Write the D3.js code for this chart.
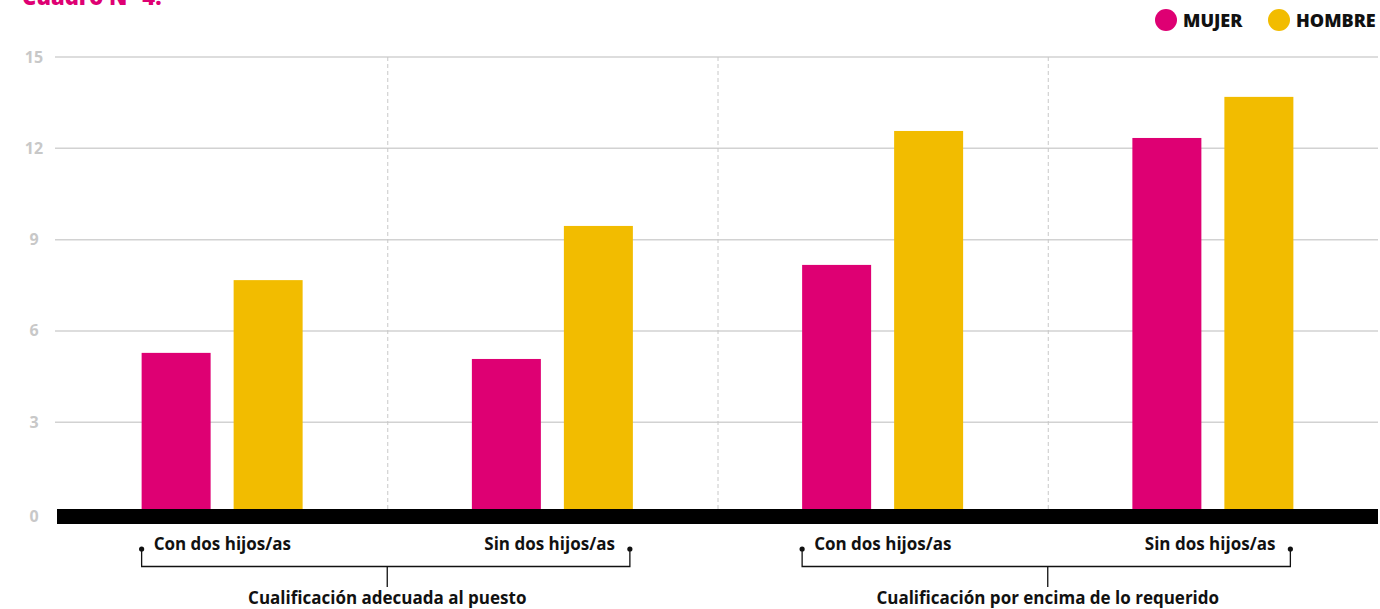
<!DOCTYPE html>
<html><head><meta charset="utf-8">
<script src="https://cdn.jsdelivr.net/npm/d3@7"></script>
<style>body{margin:0;background:#fff;}svg{display:block;font-family:"Open Sans",Lato,sans-serif;}</style>
</head><body>
<svg id="c" width="1380" height="609"></svg>
<script>
const categories = ["Con dos hijos/as","Sin dos hijos/as","Con dos hijos/as","Sin dos hijos/as"];
const groups = ["Cualificación adecuada al puesto","Cualificación por encima de lo requerido"];
const series = ["MUJER","HOMBRE"];
const mujer = [5.28, 5.08, 8.17, 12.34];
const hombre = [7.67, 9.45, 12.57, 13.69];
const yTicks = [0,3,6,9,12,15];
const colors = ["#de0073","#f2bc00"];
const title = "Cuadro N° 4.";

const svg = d3.select("#c");
const L = 57, R = 1378, T = 57;
const y = d3.scaleLinear().domain([0,15]).range([513.6, T]);
const x = d3.scaleBand().domain(d3.range(categories.length)).range([L, R]);
const bw = x.bandwidth();
const xi = d3.scaleBand().domain(series).range([bw/2-80.5, bw/2+80.5]).paddingInner(0.25);

// title (partly above the top edge, as in the reference)
svg.append("text").attr("x",22).attr("y",5).attr("fill","#de0073")
  .attr("font-size",22).attr("font-weight",800).text(title);

// gridlines
svg.append("g").selectAll("line").data(yTicks.filter(d=>d>0)).join("line")
  .attr("x1",55).attr("x2",R).attr("y1",d=>y(d)).attr("y2",d=>y(d))
  .attr("stroke","#d2d2d2").attr("stroke-width",1.5);
// y tick labels
svg.append("g").selectAll("text").data(yTicks).join("text")
  .attr("x",34).attr("y",d=>(d===0? y(d)+3 : y(d))+5.5).attr("text-anchor","middle")
  .attr("fill","#c8c8c8").attr("font-size",16).attr("font-weight",700).text(d=>d);

// dashed separators
svg.append("g").selectAll("line").data(d3.range(1,categories.length)).join("line")
  .attr("x1",d=>x(d)+0.5).attr("x2",d=>x(d)+0.5).attr("y1",T).attr("y2",y(0)-4)
  .attr("stroke","#c8c8c8").attr("stroke-width",1).attr("stroke-dasharray","4,3");

// bars
const data = categories.map((c,i)=>({i, vals:[mujer[i],hombre[i]]}));
const gb = svg.append("g").selectAll("g").data(data).join("g").attr("transform",d=>`translate(${x(d.i)},0)`);
gb.selectAll("rect").data(d=>d.vals.map((v,k)=>({v,k}))).join("rect")
  .attr("x",d=>xi(series[d.k])).attr("width",xi.bandwidth())
  .attr("y",d=>y(d.v)).attr("height",d=>y(0)-y(d.v)+2)
  .attr("fill",d=>colors[d.k]);

// zero axis band
svg.append("rect").attr("x",L).attr("y",y(0)-4.6).attr("width",R-L).attr("height",15).attr("fill","#000");

// category labels and brackets
const lab = svg.append("g");
categories.forEach((c,i)=>{
  const left = i%2===0;
  const bx = left ? x(i)+xi("MUJER") : x(i)+xi("HOMBRE")+xi.bandwidth()-3;
  lab.append("text").attr("x", left ? bx+12 : bx-15).attr("y",550)
    .attr("text-anchor", left ? "start" : "end")
    .attr("font-size",17).attr("font-weight",700).attr("fill","#111").text(c);
});
groups.forEach((g,j)=>{
  const i0 = 2*j, i1 = 2*j+1;
  const xa = x(i0)+xi("MUJER");
  const xb = x(i1)+xi("HOMBRE")+xi.bandwidth()-3;
  const xc = x(i1);
  const br = lab.append("g").attr("stroke","#111").attr("stroke-width",1.3).attr("fill","none");
  br.append("path").attr("d",`M${xa},549V566.5H${xb}V549`);
  br.append("line").attr("x1",xc).attr("x2",xc).attr("y1",566.5).attr("y2",587);
  lab.append("circle").attr("cx",xa).attr("cy",549).attr("r",2.6).attr("fill","#111");
  lab.append("circle").attr("cx",xb).attr("cy",549).attr("r",2.6).attr("fill","#111");
  lab.append("text").attr("x",xc).attr("y",604).attr("text-anchor","middle")
    .attr("font-size",17).attr("font-weight",700).attr("fill","#111").text(g);
});

// legend
const leg = svg.append("g");
const legX = [1166, 1279];
series.forEach((s,k)=>{
  leg.append("circle").attr("cx",legX[k]).attr("cy",20).attr("r",11).attr("fill",colors[k]);
  leg.append("text").attr("x",legX[k]+17).attr("y",26.5).attr("font-size",18).attr("font-weight",800)
    .attr("fill","#111").text(s);
});
</script>
</body></html>
